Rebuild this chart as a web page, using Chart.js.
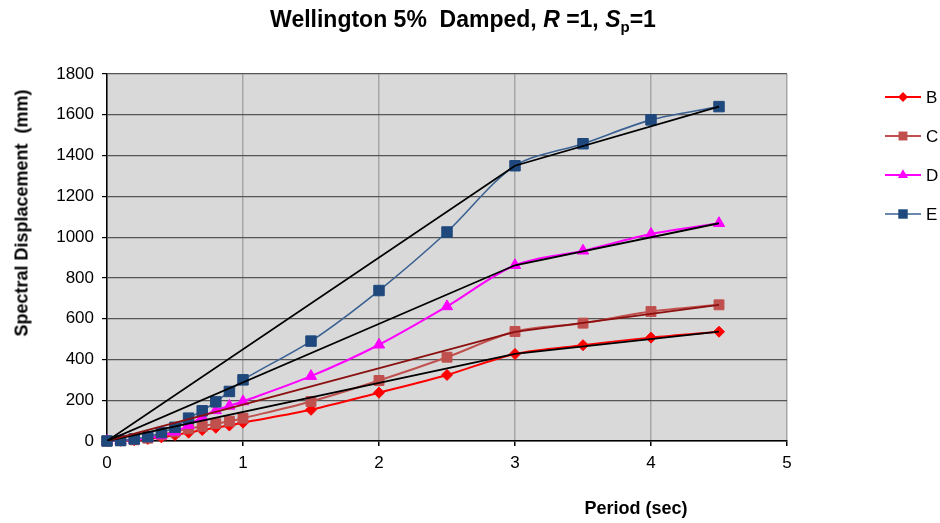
<!DOCTYPE html>
<html>
<head>
<meta charset="utf-8">
<title>Wellington 5% Damped</title>
<script src="https://cdn.jsdelivr.net/npm/chart.js@4/dist/chart.umd.min.js"></script>
<style>
  html, body { margin: 0; padding: 0; background: #fff; }
  #wrap { position: relative; width: 940px; height: 523px; font-family: "Liberation Sans", Arial, sans-serif; color: #000; }
  #title { position: absolute; left: 463px; top: 20px; transform: translate(-50%, -50%); white-space: nowrap; font-weight: bold; font-size: 23px; }
  #title sub { font-size: 15px; vertical-align: -5px; }
  #ytitle { position: absolute; left: 22px; top: 213px; transform: translate(-50%, -50%) rotate(-90deg); white-space: pre; font-weight: bold; font-size: 18px; }
  #xtitle { position: absolute; left: 636px; top: 508px; transform: translate(-50%, -50%); white-space: nowrap; font-weight: bold; font-size: 18px; }
  canvas { position: absolute; left: 0; top: 0; }
</style>
</head>
<body>
<div id="wrap">
  <canvas id="chart" width="940" height="523"></canvas>
  <div id="title">Wellington 5%&nbsp; Damped, <i>R</i> =1, <i>S</i><sub>p</sub>=1</div>
  <div id="ytitle">Spectral Displacement  (mm)</div>
  <div id="xtitle">Period (sec)</div>
</div>
<script>
// Period values (sec) for the site class spectra
const periods = [0, 0.1, 0.2, 0.3, 0.4, 0.5, 0.6, 0.7, 0.8, 0.9, 1.0, 1.5, 2, 2.5, 3, 3.5, 4, 4.5];

// Spectral displacement (mm)
const siteB = [0, 1, 4, 10, 18, 29, 41, 54, 65, 76, 90, 153, 237, 324, 427, 470, 507, 536];
const siteC = [0, 2, 6, 14, 30, 45, 60, 72, 85, 97, 112, 194, 297, 411, 537, 578, 635, 668];
const siteD = [0, 2, 7, 14, 27, 45, 78, 118, 150, 172, 194, 318, 472, 660, 862, 933, 1015, 1068];
const siteE = [0, 2, 10, 21, 41, 67, 112, 148, 192, 243, 300, 490, 738, 1025, 1350, 1458, 1575, 1640];

// Straight design lines
const designT = [0, 3, 4.5];
const designB = [0, 427, 536];
const designC = [0, 535, 668];
const designD = [0, 862, 1068];
const designE = [0, 1350, 1640];

const xTicks = [0, 1, 2, 3, 4, 5];
const yTicks = [0, 200, 400, 600, 800, 1000, 1200, 1400, 1600, 1800];

const legendLabels = ['B', 'C', 'D', 'E'];

const toPoints = (xs, ys) => xs.map((x, i) => ({ x, y: ys[i] }));

const seriesSet = (label, values, line, fill, style, radius, width, order) => ({
  label,
  data: toPoints(periods, values),
  borderColor: line,
  backgroundColor: fill,
  pointBackgroundColor: fill,
  pointBorderColor: fill,
  pointStyle: style,
  pointRadius: radius,
  pointBorderWidth: 1,
  borderWidth: width,
  tension: 0.3,
  clip: 12,
  order
});

const designSet = (values, color) => ({
  label: '',
  data: toPoints(designT, values),
  borderColor: color,
  borderWidth: 1.8,
  pointRadius: 0,
  tension: 0,
  order: 0
});

// Fill plot area grey
const plotBg = {
  id: 'plotBg',
  beforeDraw(chart) {
    const { ctx, chartArea: a } = chart;
    ctx.save();
    ctx.fillStyle = '#d9d9d9';
    ctx.fillRect(a.left, a.top, a.right - a.left, a.bottom - a.top);
    ctx.restore();
  }
};

// Legend at the right: line with marker, like Excel
const sideLegend = {
  id: 'sideLegend',
  afterDraw(chart) {
    const ctx = chart.ctx;
    legendLabels.forEach((lab, idx) => {
      const ds = chart.data.datasets.find(d => d.label === lab);
      const y = 97 + idx * 39;
      ctx.save();
      ctx.strokeStyle = ds.borderColor;
      ctx.lineWidth = ds.borderWidth;
      ctx.beginPath();
      ctx.moveTo(885, y);
      ctx.lineTo(921, y);
      ctx.stroke();
      ctx.fillStyle = ds.pointBackgroundColor;
      ctx.strokeStyle = ds.pointBorderColor;
      ctx.lineWidth = 1;
      Chart.helpers.drawPoint(ctx, { pointStyle: ds.pointStyle, radius: ds.pointRadius * 0.9, rotation: 0 }, 903, y);
      ctx.fillStyle = '#000';
      ctx.font = '17px "Liberation Sans", Arial, sans-serif';
      ctx.textBaseline = 'middle';
      ctx.textAlign = 'left';
      ctx.fillText(lab, 926, y + 1);
      ctx.restore();
    });
  }
};

new Chart(document.getElementById('chart').getContext('2d'), {
  type: 'line',
  data: {
    datasets: [
      designSet(designE, '#000000'),
      designSet(designD, '#000000'),
      designSet(designC, '#8b1010'),
      designSet(designB, '#000000'),
      seriesSet('B', siteB, '#ff0000', '#ff0000', 'rectRot', 5.5, 2, 4),
      seriesSet('C', siteC, '#c0504d', '#c0504d', 'rect', 7, 2, 3),
      seriesSet('D', siteD, '#ff00ff', '#ff00ff', 'triangle', 6.5, 2, 2),
      seriesSet('E', siteE, '#3a6192', '#1f497d', 'rect', 7.4, 1.6, 1)
    ]
  },
  options: {
    responsive: false,
    animation: false,
    devicePixelRatio: 1,
    layout: { padding: { left: 0, top: 74, right: 153, bottom: 0 } },
    plugins: {
      legend: { display: false },
      title: { display: false },
      tooltip: { enabled: false }
    },
    scales: {
      x: {
        type: 'linear',
        min: 0,
        max: 5,
        afterFit: (s) => { s.height = 82; },
        afterBuildTicks: (s) => { s.ticks = xTicks.map(v => ({ value: v })); },
        ticks: {
          color: '#000',
          padding: 7,
          callback: (v) => String(v),
          font: { family: '"Liberation Sans", Arial, sans-serif', size: 17 }
        },
        grid: { color: '#a6a6a6', lineWidth: 1.5, tickColor: '#000', tickLength: 5 },
        border: { color: '#000', width: 1.5 }
      },
      y: {
        type: 'linear',
        min: 0,
        max: 1800,
        afterFit: (s) => { s.width = 107; },
        afterBuildTicks: (s) => { s.ticks = yTicks.map(v => ({ value: v })); },
        ticks: {
          color: '#000',
          padding: 8,
          callback: (v) => String(v),
          font: { family: '"Liberation Sans", Arial, sans-serif', size: 17 }
        },
        grid: { color: '#555555', lineWidth: 1.2, tickColor: '#000', tickLength: 5 },
        border: { color: '#000', width: 1.5 }
      }
    }
  },
  plugins: [plotBg, sideLegend]
});
</script>
</body>
</html>
